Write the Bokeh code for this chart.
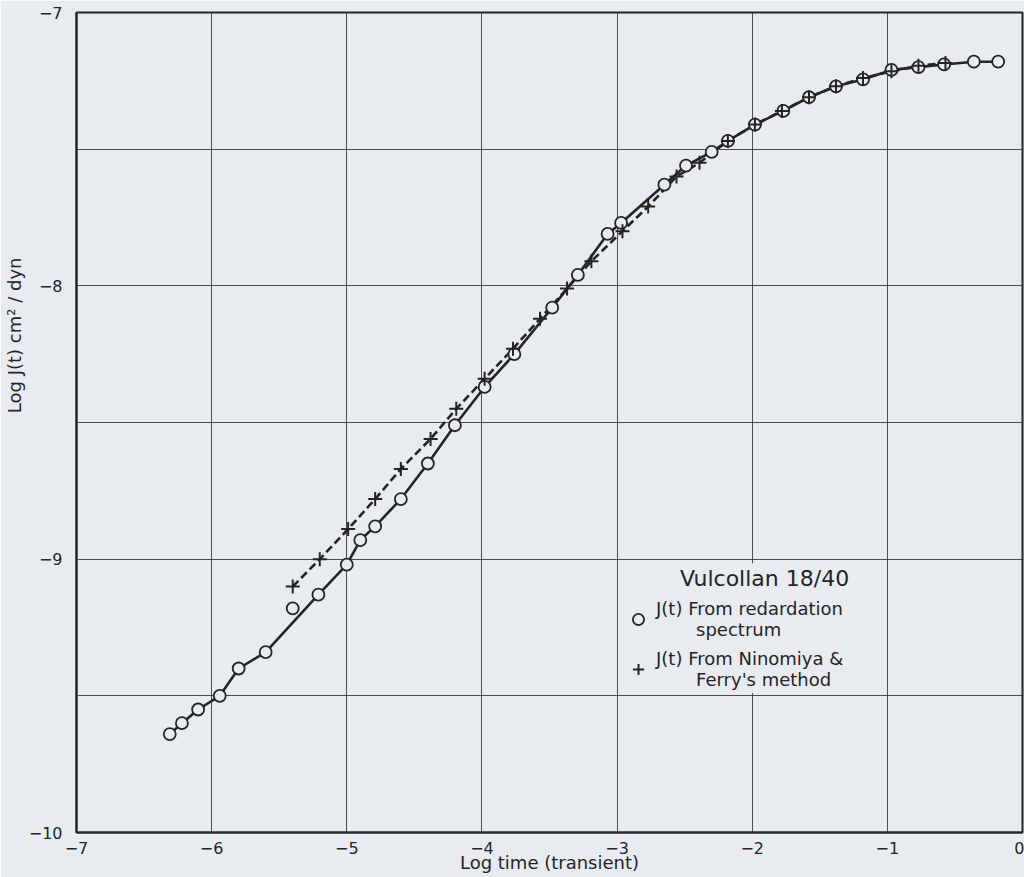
import math
from bokeh.plotting import figure
from bokeh.models import Range1d, FixedTicker, Legend, LegendItem, Title, BoxAnnotation
from bokeh.embed import file_html
from bokeh.resources import INLINE

# J(t) from retardation spectrum (circles)
circle_x = [-6.31, -6.22, -6.10, -5.94, -5.80, -5.60, -5.40, -5.21, -5.00, -4.90,
            -4.79, -4.60, -4.40, -4.20, -3.98, -3.76, -3.48, -3.29, -3.07, -2.97,
            -2.65, -2.49, -2.30, -2.18, -1.98, -1.77, -1.58, -1.38, -1.18, -0.97,
            -0.77, -0.58, -0.36, -0.18]
circle_y = [-9.64, -9.60, -9.55, -9.50, -9.40, -9.34, -9.18, -9.13, -9.02, -8.93,
            -8.88, -8.78, -8.65, -8.51, -8.37, -8.25, -8.08, -7.96, -7.81, -7.77,
            -7.63, -7.56, -7.51, -7.47, -7.41, -7.36, -7.31, -7.27, -7.245, -7.21,
            -7.20, -7.19, -7.18, -7.18]

# solid curve drawn through the circles (passes below the point at -5.4)
solid_x = [-6.31, -6.22, -6.10, -5.94, -5.80, -5.60, -5.21, -5.00, -4.90,
           -4.79, -4.60, -4.40, -4.20, -3.98, -3.76, -3.48, -3.29, -3.07, -2.97,
           -2.65, -2.49, -2.30, -2.18, -1.98, -1.77, -1.58, -1.38, -1.18, -0.97,
           -0.77, -0.58, -0.36, -0.18]
solid_y = [-9.64, -9.60, -9.55, -9.50, -9.40, -9.34, -9.13, -9.02, -8.93,
           -8.88, -8.78, -8.65, -8.51, -8.37, -8.25, -8.08, -7.96, -7.81, -7.77,
           -7.63, -7.56, -7.51, -7.47, -7.41, -7.36, -7.31, -7.27, -7.245, -7.21,
           -7.20, -7.19, -7.18, -7.18]

# J(t) from Ninomiya & Ferry's method (plus markers, dashed line)
plus_x = [-5.40, -5.20, -4.99, -4.79, -4.60, -4.38, -4.19, -3.98, -3.77, -3.57,
          -3.37, -3.19, -2.96, -2.77, -2.56, -2.39, -2.18, -1.98, -1.78, -1.58,
          -1.38, -1.18, -0.97, -0.77, -0.57]
plus_y = [-9.10, -9.00, -8.89, -8.78, -8.67, -8.56, -8.45, -8.34, -8.23, -8.12,
          -8.01, -7.91, -7.80, -7.71, -7.60, -7.55, -7.47, -7.41, -7.36, -7.31,
          -7.27, -7.24, -7.215, -7.195, -7.185]

x_ticks = [-7, -6, -5, -4, -3, -2, -1, 0]
y_ticks = [-10, -9, -8, -7]
y_grid = [-10, -9.5, -9, -8.5, -8, -7.5, -7]

NB = "\u00a0"
title_text = "Vulcollan 18/40"
label_circle = "J(t) From redardation\n" + NB * 7 + "spectrum"
label_plus = "J(t) From Ninomiya &\n" + NB * 7 + "Ferry's method"
x_label = "Log time (transient)"
y_label = "Log J(t) cm\u00b2 / dyn"

BG = "#e8ecf1"
INK = "#242424"
FONT = "DejaVu Sans"

p = figure(width=1024, height=877, x_range=Range1d(-7, 0), y_range=Range1d(-10, -7),
           output_backend="svg", toolbar_location=None,
           min_border_left=76, min_border_right=2, min_border_top=12, min_border_bottom=45)
p.background_fill_color = BG
p.border_fill_color = BG
p.outline_line_color = INK
p.outline_line_width = 2

for ax in (p.xaxis[0], p.yaxis[0]):
    ax.axis_line_color = INK
    ax.axis_line_width = 2
    ax.major_tick_line_color = None
    ax.minor_tick_line_color = None
    ax.major_label_text_font = FONT
    ax.major_label_text_font_size = "16px"
    ax.major_label_text_color = INK

p.xaxis[0].ticker = FixedTicker(ticks=x_ticks)
p.yaxis[0].ticker = FixedTicker(ticks=y_ticks)
p.xaxis[0].major_label_standoff = 3
p.yaxis[0].major_label_standoff = 8
p.xaxis[0].axis_label = x_label
p.xaxis[0].axis_label_standoff = -5
p.xaxis[0].axis_label_text_font = FONT
p.xaxis[0].axis_label_text_font_size = "18px"
p.xaxis[0].axis_label_text_font_style = "normal"
p.xaxis[0].axis_label_text_color = INK

p.xgrid[0].ticker = FixedTicker(ticks=x_ticks)
p.ygrid[0].ticker = FixedTicker(ticks=y_grid)
for g in (p.xgrid[0], p.ygrid[0]):
    g.grid_line_color = "#303030"
    g.grid_line_width = 1
    g.grid_line_alpha = 0.85

# blank the grid behind the legend text
p.add_layout(BoxAnnotation(left=-2.35, right=-1.03, bottom=-9.49, top=-9.015,
                           fill_color=BG, fill_alpha=1.0, line_color=None,
                           level="underlay"))

# y axis title in the left panel, placed in the upper part
p.add_layout(Title(text=y_label, align="right", offset=245, standoff=2,
                   text_font=FONT, text_font_size="18px", text_font_style="normal",
                   text_color=INK), "left")

p.line(solid_x, solid_y, line_color=INK, line_width=2.6)
p.line(plus_x, plus_y, line_color=INK, line_width=2.6, line_dash="8 4")
c = p.scatter(circle_x, circle_y, marker="circle", size=12, line_color=INK,
              line_width=1.8, fill_color=BG)
s = p.scatter(plus_x, plus_y, marker="cross", size=14, line_color=INK, line_width=2)

legend = Legend(items=[LegendItem(label=label_circle, renderers=[c]),
                       LegendItem(label=label_plus, renderers=[s])],
                location=(548, 142),
                title=NB * 8 + title_text,
                title_text_font=FONT, title_text_font_size="22px",
                title_text_font_style="normal", title_text_color=INK,
                title_standoff=7,
                label_text_font=FONT, label_text_font_size="18px",
                label_text_color=INK,
                background_fill_alpha=0.0,
                border_line_color=None, padding=2, spacing=8,
                glyph_width=28, glyph_height=28, label_standoff=4)
p.add_layout(legend)

open("out.html", "w").write(file_html(p, INLINE))
